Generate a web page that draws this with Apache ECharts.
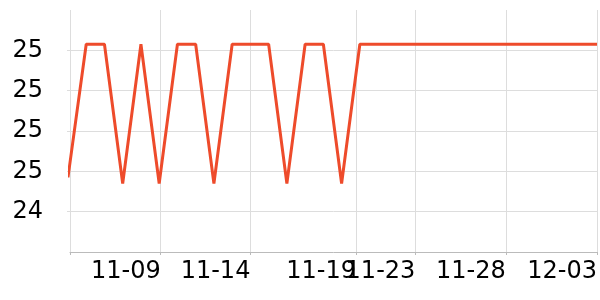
<!DOCTYPE html>
<html>
<head>
<meta charset="utf-8">
<script src="https://cdn.jsdelivr.net/npm/echarts@6/dist/echarts.min.js"></script>
<style>html,body{margin:0;padding:0;background:#fff}#c{width:600px;height:300px}</style>
</head>
<body>
<div id="c"></div>
<script>
const dates = ['2023-11-04','2023-11-05','2023-11-06','2023-11-07','2023-11-08','2023-11-09','2023-11-10','2023-11-11','2023-11-12','2023-11-13','2023-11-14','2023-11-15','2023-11-16','2023-11-17','2023-11-18','2023-11-19','2023-11-20','2023-11-21','2023-11-22','2023-11-23','2023-11-24','2023-11-25','2023-11-26','2023-11-27','2023-11-28','2023-11-29','2023-11-30','2023-12-01','2023-12-02','2023-12-03'];
const values = [24.57,25.23,25.23,24.54,25.23,24.54,25.23,25.23,24.54,25.23,25.23,25.23,24.54,25.23,25.23,24.54,25.23,25.23,25.23,25.23,25.23,25.23,25.23,25.23,25.23,25.23,25.23,25.23,25.23,25.23];
const xMinTime = '2023-11-04T02:40';
const xMaxTime = '2023-12-03T00:00';
const xTickTimes = ['2023-11-04T02:40','2023-11-09T02:00','2023-11-14T00:00','2023-11-19T19:00','2023-11-23T01:00','2023-11-28T00:00','2023-12-03T00:00'];
const xLabelTimes = ['2023-11-09T02:00','2023-11-14T00:00','2023-11-19T19:00','2023-11-23T01:00','2023-11-28T00:00','2023-12-03T00:00'];
const yMin = 24.2, yMax = 25.4, yStep = 0.2;

const ts = s => new Date(s.length === 10 ? s + 'T00:00' : s).getTime();
const pad = n => (n < 10 ? '0' : '') + n;
const chart = echarts.init(document.getElementById('c'));
chart.setOption({
  animation: false,
  textStyle: { fontFamily: 'DejaVu Sans' },
  grid: { left: 70, right: 2, top: 10, bottom: 48, containLabel: false },
  xAxis: {
    type: 'value',
    min: ts(xMinTime),
    max: ts(xMaxTime),
    axisLine: { show: true, lineStyle: { color: '#bbbbbb', width: 1 } },
    axisTick: { show: true, length: 3, lineStyle: { color: '#bbbbbb' }, customValues: xTickTimes.map(ts) },
    axisLabel: {
      customValues: xLabelTimes.map(ts),
      align: 'right',
      margin: 8,
      fontSize: 24,
      color: '#000',
      fontFamily: 'DejaVu Sans',
      hideOverlap: false,
      formatter: v => { const d = new Date(v); return pad(d.getMonth() + 1) + '-' + pad(d.getDate()); }
    },
    splitLine: { show: true, lineStyle: { color: '#dddddd', width: 1 } }
  },
  yAxis: {
    type: 'value',
    min: yMin,
    max: yMax,
    interval: yStep,
    axisLine: { show: false },
    axisTick: { show: true, length: 3, lineStyle: { color: '#dddddd' } },
    axisLabel: {
      margin: 27,
      fontSize: 24,
      color: '#000',
      fontFamily: 'DejaVu Sans',
      showMaxLabel: false,
      showMinLabel: false,
      formatter: v => Number(v).toFixed(0)
    },
    splitLine: { show: true, showMaxLine: false, showMinLine: false, lineStyle: { color: '#dddddd', width: 1 } }
  },
  series: [{
    type: 'line',
    data: dates.map((d, i) => [ts(d), values[i]]),
    showSymbol: false,
    symbol: 'none',
    lineStyle: { color: '#ee4b2b', width: 3 },
    itemStyle: { color: '#ee4b2b' }
  }]
});
</script>
</body>
</html>
